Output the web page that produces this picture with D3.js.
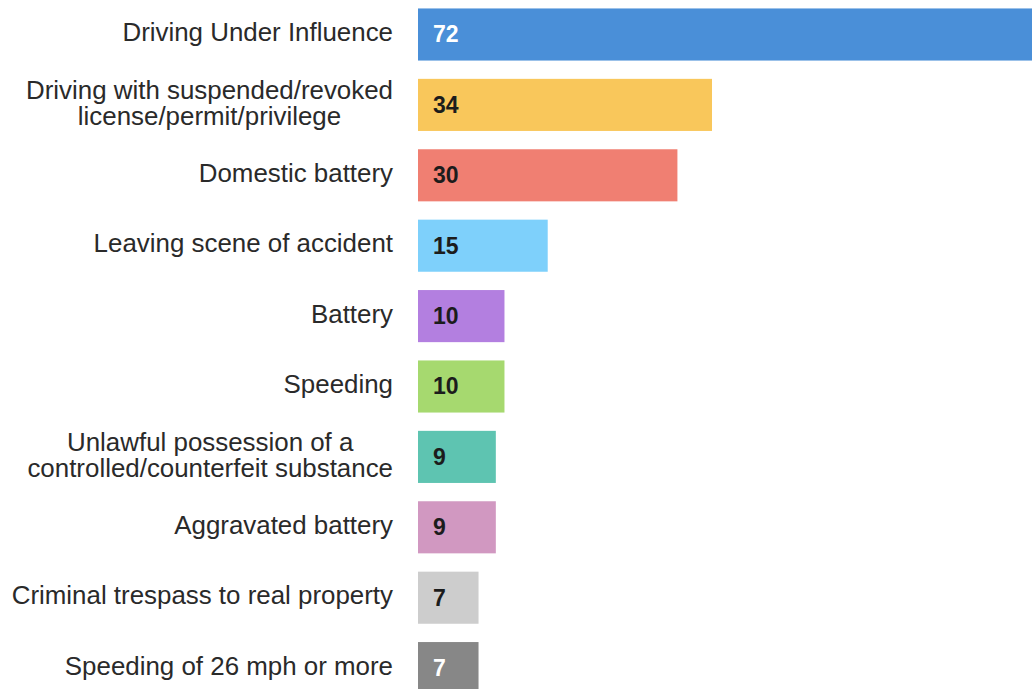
<!DOCTYPE html>
<html><head><meta charset="utf-8">
<script src="https://cdn.jsdelivr.net/npm/d3@7"></script>
<style>
html,body{margin:0;padding:0;background:#fff;overflow:hidden}
svg{display:block}
</style></head>
<body>
<svg id="chart" width="1032" height="689"></svg>
<script>
const categories = [
  ["Driving Under Influence"],
  ["Driving with suspended/revoked","license/permit/privilege"],
  ["Domestic battery"],
  ["Leaving scene of accident"],
  ["Battery"],
  ["Speeding"],
  ["Unlawful possession of a","controlled/counterfeit substance"],
  ["Aggravated battery"],
  ["Criminal trespass to real property"],
  ["Speeding of 26 mph or more"]
];
const values = [72, 34, 30, 15, 10, 10, 9, 9, 7, 7];
const colors = ["#4a8fd8","#f9c75b","#f07f72","#7ed0fb","#b37fe0","#a6d96f","#5ec4b1","#d198c1","#cdcdcd","#878787"];
const valueColors = ["#ffffff","#1c1c1c","#1c1c1c","#1c1c1c","#1c1c1c","#1c1c1c","#1c1c1c","#1c1c1c","#1c1c1c","#ffffff"];

const svg = d3.select("#chart");
const ids = d3.range(values.length);
const x = d3.scaleLinear().domain([0, 72]).range([418, 1040.6]);
const y = d3.scaleBand().domain(ids).range([-0.7, 703.3]).paddingInner(0.26).paddingOuter(0.13);

svg.selectAll("rect.bar").data(ids).join("rect")
  .attr("class","bar")
  .attr("x", x(0))
  .attr("y", i => y(i))
  .attr("width", i => x(values[i]) - x(0))
  .attr("height", y.bandwidth())
  .attr("fill", i => colors[i]);

svg.selectAll("text.val").data(ids).join("text")
  .attr("class","val")
  .attr("x", x(0) + 15)
  .attr("y", i => y(i) + y.bandwidth()/2)
  .attr("dy","0.34em")
  .attr("font-family","Liberation Sans, Arial, sans-serif")
  .attr("font-weight","bold")
  .attr("font-size", 23)
  .attr("fill", i => valueColors[i])
  .text(i => values[i]);

const lh = 26;
const rightEdge = 393;
const lab = svg.selectAll("text.lab").data(ids).join("text")
  .attr("class","lab")
  .attr("font-family","Liberation Sans, Arial, sans-serif")
  .attr("font-size", 25.9)
  .attr("fill","#2a2a2a");
lab.each(function(i){
  const lines = categories[i];
  const cy = y(i) + y.bandwidth()/2 - 1;
  const t = d3.select(this);
  const spans = lines.map((ln, k) => t.append("tspan")
      .attr("y", cy + (k - (lines.length-1)/2) * lh)
      .attr("dy","0.3em")
      .text(ln));
  const maxW = d3.max(spans, s => s.node().getComputedTextLength());
  t.attr("text-anchor","middle");
  spans.forEach(s => s.attr("x", rightEdge - maxW/2));
});
</script>
</body></html>
